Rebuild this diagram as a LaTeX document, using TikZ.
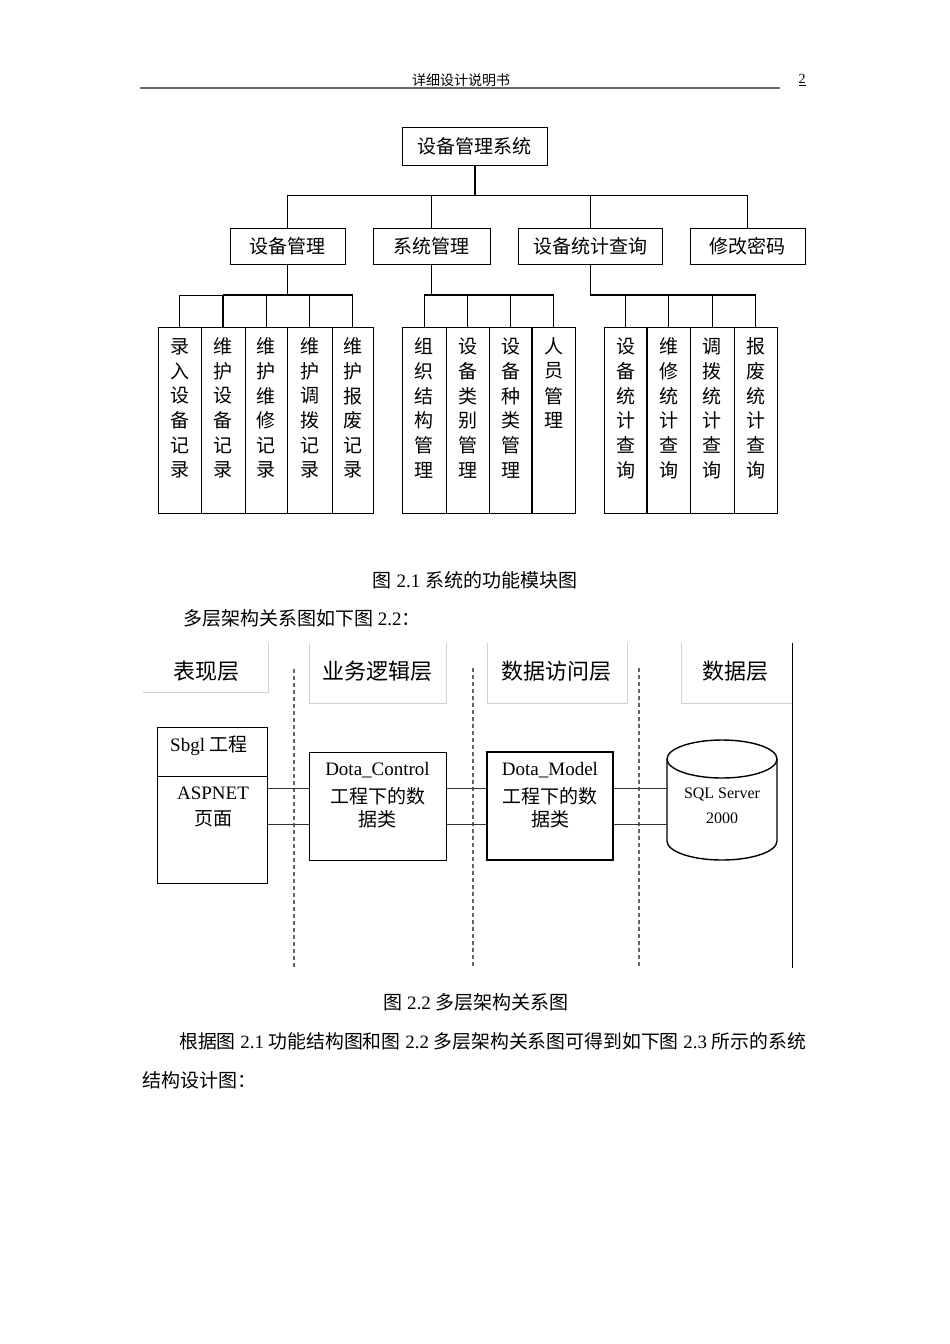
\documentclass[tikz,border=0pt]{standalone}
\usepackage{fontspec}
\setmainfont{Liberation Serif}
\newfontfamily\cjk{Noto Sans CJK SC}
\usetikzlibrary{calc}
\newcommand\myfs[1]{\fontsize{#1}{#1}\selectfont}
\newcommand\leafcol[4]{%
  \node[leafbox, minimum width=#3pt] (#1) at (#2,420) {};
  \foreach \ch [count=\i] in {#4} {\node[leafch] at ($(#1.north)+(0,{20+24.7*(\i-1)})$) {\ch};}
}
\begin{document}
\begin{tikzpicture}[x=1pt,y=-1pt,
  ln/.style={line width=1pt},
  thickln/.style={line width=2pt},
  box/.style={draw, line width=1pt, inner sep=0pt, font=\cjk\myfs{19}},
  leafbox/.style={draw, line width=1pt, inner sep=0pt, minimum height=186pt},
  leafch/.style={inner sep=0pt, font=\cjk\myfs{19}},
  txt/.style={inner sep=0pt, font=\myfs{19}},
  layer/.style={inner sep=0pt, font=\cjk\myfs{22}},
  layerln/.style={line width=1pt, black!18},
  sep/.style={line width=1.6pt, black!60, dash pattern=on 4pt off 3pt},
  conn/.style={line width=1pt, black!80}]
\useasboundingbox (0,0) rectangle (950,1344);
\fill[white] (0,0) rectangle (950,1344);

% page header
\node[inner sep=0pt, font=\cjk\myfs{14}] (hd) at (461,80) {详细设计说明书};
\draw[line width=2pt, black!60] (140,88) -- (780,88);
\node[inner sep=0pt, font=\myfs{14}] (pg) at (802,80) {\underline{2}};

% ---------- figure 2.1 ----------
\node[box, minimum width=145pt, minimum height=38pt] (top) at (474.5,146) {设备管理系统};
\node[box, minimum width=115pt, minimum height=36pt] (A) at (287.5,246) {设备管理};
\node[box, minimum width=117pt, minimum height=36pt] (B) at (431.5,246) {系统管理};
\node[box, minimum width=144pt, minimum height=36pt] (C) at (590,246) {设备统计查询};
\node[box, minimum width=115pt, minimum height=36pt] (D) at (747.5,246) {修改密码};

\leafcol{L1}{179.5}{43}{录,入,设,备,记,录}
\leafcol{L2}{223}{44}{维,护,设,备,记,录}
\leafcol{L3}{266}{42}{维,护,维,修,记,录}
\leafcol{L4}{309.5}{45}{维,护,调,拨,记,录}
\leafcol{L5}{352.5}{41}{维,护,报,废,记,录}
\leafcol{M1}{424}{44}{组,织,结,构,管,理}
\leafcol{M2}{467.5}{43}{设,备,类,别,管,理}
\leafcol{M3}{510.5}{43}{设,备,种,类,管,理}
\leafcol{M4}{553.5}{43}{人,员,管,理}
\leafcol{N1}{625.5}{43}{设,备,统,计,查,询}
\leafcol{N2}{668.5}{43}{维,修,统,计,查,询}
\leafcol{N3}{712}{44}{调,拨,统,计,查,询}
\leafcol{N4}{755.5}{43}{报,废,统,计,查,询}
\draw[thickln] (M4.north west) -- (M4.south west);
\draw[thickln] (N2.north west) -- (N2.south west);

\coordinate (mid) at (0,195);
\coordinate (bus) at (0,295);
\draw[thickln] (top.south) -- (top.south |- mid);
\draw[ln] (A.north |- mid) -- (D.north |- mid);
\foreach \n in {A,B,C,D} \draw[ln] (\n.north) -- (\n.north |- mid);
\foreach \n in {A,B,C} \draw[ln] (\n.south) -- (\n.south |- bus);
\draw[ln] (L1.north |- bus) -- (L2.north |- bus);
\draw[thickln] (L2.north |- bus) -- (L5.north |- bus);
\foreach \n in {L1,L3,L4,L5} \draw[ln] (\n.north) -- (\n.north |- bus);
\draw[thickln] (L2.north) -- (L2.north |- bus);
\draw[thickln] (M1.north |- bus) -- (M4.north |- bus);
\foreach \n in {M1,M2,M3,M4} \draw[ln] (\n.north) -- (\n.north |- bus);
\draw[thickln] (C.south |- bus) -- (N4.north |- bus);
\foreach \n in {N1,N2,N3,N4} \draw[ln] (\n.north) -- (\n.north |- bus);

\node[txt] (cap1) at (475,580) {{\cjk 图} 2.1 {\cjk 系统的功能模块图}};
\node[txt, anchor=west] (para1) at (183,618) {{\cjk 多层架构关系图如下图} 2.2{\cjk ：}};

% ---------- figure 2.2 ----------
\draw[layerln] (268,643) -- (268,692) -- (143,692);
\draw[layerln] (309,643) -- (309,703) -- (446,703) -- (446,643);
\draw[layerln] (487,643) -- (487,703) -- (627,703) -- (627,643);
\draw[layerln] (681,643) -- (681,703) -- (792,703);
\draw[line width=1pt] (792,643) -- (792,968);
\node[layer] (ly1) at (206,671) {表现层};
\node[layer] (ly2) at (377,671) {业务逻辑层};
\node[layer] (ly3) at (556,671) {数据访问层};
\node[layer] (ly4) at (735,671) {数据层};

\draw[sep] (294,669) -- (294,968);
\draw[sep] (473,668) -- (473,968);
\draw[sep] (639,668) -- (639,968);

\node[box, minimum width=110pt, minimum height=156pt] (sb) at (212,805) {};
\draw[ln] (sb.west |- 0,776) -- (sb.east |- 0,776);
\node[txt] (sbt) at (209,746) {Sbgl {\cjk 工程}};
\node[txt] (sb1) at (213,793) {ASPNET};
\node[txt] (sb2) at (213,819) {\cjk 页面};

\node[box, minimum width=137pt, minimum height=108pt] (dc) at (377.5,806) {};
\node[txt] (dc1) at (377.5,770) {Dota\_Control};
\node[txt] (dc2) at (377.5,796) {\cjk 工程下的数};
\node[txt] (dc3) at (377.5,819) {\cjk 据类};

\node[box, line width=1.3pt, minimum width=126pt, minimum height=108pt] (dm) at (550,806) {};
\node[txt] (dm1) at (550,770) {Dota\_Model};
\node[txt] (dm2) at (550,796) {\cjk 工程下的数};
\node[txt] (dm3) at (550,819) {\cjk 据类};

\node[inner sep=0pt, minimum width=110pt, minimum height=120pt] (db) at (722,800) {};
\draw[line width=1.4pt] (722,759) ellipse [x radius=55, y radius=19];
\draw[line width=1.4pt] (667,759) -- (667,841) arc[start angle=180, end angle=0, x radius=55, y radius=19] -- (777,759);
\node[inner sep=0pt, font=\myfs{16}] (db1) at (722,794) {SQL Server};
\node[inner sep=0pt, font=\myfs{16}] (db2) at (722,818) {2000};

\draw[conn] (sb.east |- 0,788) -- (dc.west |- 0,788);
\draw[conn] (sb.east |- 0,824) -- (dc.west |- 0,824);
\draw[conn] (dc.east |- 0,788) -- (dm.west |- 0,788);
\draw[conn] (dc.east |- 0,824) -- (dm.west |- 0,824);
\draw[conn] (dm.east |- 0,788) -- (db.west |- 0,788);
\draw[conn] (dm.east |- 0,824) -- (db.west |- 0,824);

\node[txt] (cap2) at (476,1002) {{\cjk 图} 2.2 {\cjk 多层架构关系图}};
\node[txt, anchor=west, font=\myfs{18.85}] (para2) at (179,1041) {{\cjk 根据图} 2.1 {\cjk 功能结构图和图} 2.2 {\cjk 多层架构关系图可得到如下图} 2.3 {\cjk 所示的系统}};
\node[txt, anchor=west] (para3) at (142,1080) {\cjk 结构设计图：};
\end{tikzpicture}
\end{document}
